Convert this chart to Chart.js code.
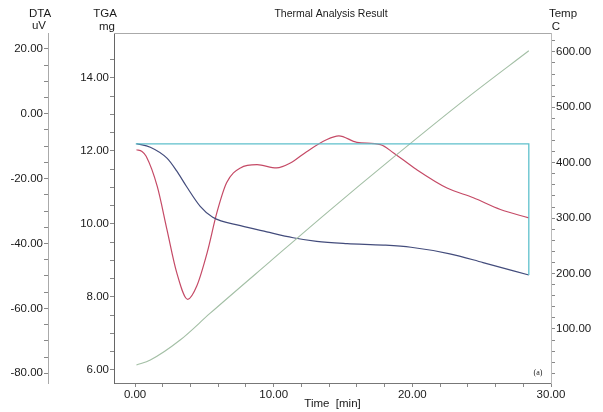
<!DOCTYPE html>
<html>
<head>
<meta charset="utf-8">
<title>Thermal Analysis Result</title>
<script src="https://cdn.jsdelivr.net/npm/chart.js@4.4.0/dist/chart.umd.min.js"></script>
<style>
  html, body { margin: 0; padding: 0; background: #fff; }
</style>
</head>
<body>
<canvas id="taChart" width="603" height="412"></canvas>
<script>
// TGA curve (mg) against time (min)
const tgaTime = [0.1, 1.1, 2.3, 3.0, 3.7, 4.7, 5.6, 7.6, 9.5, 11.4, 13.1, 15.3, 17.9, 19.9, 22.7, 25.1, 28.4];
const tgaValues = [12.2, 12.1, 11.8, 11.45, 11.03, 10.48, 10.18, 9.95, 9.78, 9.62, 9.52, 9.46, 9.42, 9.36, 9.18, 8.94, 8.6];

// DTA curve (uV)
const dtaTime = [0.1, 0.5, 0.8, 1.6, 2.3, 3.0, 3.8, 4.45, 5.2, 5.9, 6.6, 7.6, 8.8, 10.2, 11.2, 12.4, 13.8, 14.7, 16.0, 17.7, 18.65, 20.3, 22.5, 24.4, 26.35, 28.4];
const dtaValues = [-11.1, -11.6, -13.1, -22.4, -35.7, -48.9, -57.2, -53.1, -42.8, -30.5, -21.3, -16.7, -15.7, -16.7, -15.2, -11.6, -8.0, -6.8, -8.8, -9.5, -12.1, -17.2, -22.9, -25.9, -29.5, -32.1];

// Temperature program (C)
const tempTime = [0.1, 1.1, 3.25, 5.4, 9.75, 13.85, 18.65, 23.95, 28.4];
const tempValues = [35, 44, 80, 128, 222, 310, 410, 517, 602];

// cyan baseline / frame trace (mg)
const baseTime = [0.05, 28.4, 28.4];
const baseValues = [12.19, 12.19, 8.6];

// labelled ticks
const timeLabels = [0, 10, 20, 30];
const dtaLabels = [-80, -60, -40, -20, 0, 20];
const tgaLabels = [6, 8, 10, 12, 14];
const tempLabels = [100, 200, 300, 400, 500, 600];

const FONT = '"Liberation Sans", Arial, sans-serif';
Chart.defaults.font.family = FONT;
Chart.defaults.font.size = 11.5;
Chart.defaults.color = '#1a1a1a';

function toPoints(xs, ys) {
  return xs.map((x, i) => ({ x: x, y: ys[i] }));
}

// tick marks every `step`, only some of them get a label
function makeTicks(from, to, step) {
  const out = [];
  for (let v = from; v <= to + 1e-9; v += step) {
    out.push({ value: Math.round(v * 1000) / 1000 });
  }
  return out;
}

function axis(position, min, max, tickFrom, tickTo, step, labels, width, extra) {
  return Object.assign({
    type: 'linear',
    position: position,
    min: min,
    max: max,
    afterBuildTicks: s => { s.ticks = makeTicks(tickFrom, tickTo, step); },
    afterFit: s => { s.width = width; },
    grid: { drawOnChartArea: false, tickLength: 4, color: '#888' },
    border: { color: '#888' },
    ticks: {
      autoSkip: false,
      padding: 1,
      callback: v => labels.includes(v) ? v.toFixed(2) : ''
    }
  }, extra || {});
}

// header labels, frame top and the (a) mark
const decorations = {
  id: 'decorations',
  afterDraw(chart) {
    const ctx = chart.ctx;
    const area = chart.chartArea;
    ctx.save();

    ctx.strokeStyle = '#aaa';
    ctx.lineWidth = 1;
    ctx.beginPath();
    ctx.moveTo(area.left, area.top + 0.5);
    ctx.lineTo(area.right, area.top + 0.5);
    ctx.stroke();

    ctx.fillStyle = '#1a1a1a';
    ctx.textAlign = 'center';
    ctx.textBaseline = 'middle';
    ctx.font = '11.5px ' + FONT;
    ctx.fillText('DTA', 40, 14);
    ctx.fillText('uV', 39, 26);
    ctx.fillText('TGA', 105, 14);
    ctx.fillText('mg', 107, 27);
    ctx.fillText('Temp', 563, 14);
    ctx.fillText('C', 556, 27);

    ctx.font = '10.5px ' + FONT;
    ctx.fillText('Thermal Analysis Result', 331, 14);

    ctx.font = '8px "Liberation Serif", serif';
    ctx.fillText('(a)', 538, 373);
    ctx.restore();
  }
};

const ctx = document.getElementById('taChart').getContext('2d');
const chart = new Chart(ctx, {
  type: 'line',
  data: {
    datasets: [
      {
        label: 'Baseline',
        data: toPoints(baseTime, baseValues),
        yAxisID: 'tga',
        borderColor: '#5fc0cc',
        borderWidth: 1.3,
        tension: 0
      },
      {
        label: 'Temp',
        data: toPoints(tempTime, tempValues),
        yAxisID: 'temp',
        borderColor: '#a3bfa5',
        borderWidth: 1.1,
        cubicInterpolationMode: 'monotone'
      },
      {
        label: 'TGA',
        data: toPoints(tgaTime, tgaValues),
        yAxisID: 'tga',
        borderColor: '#434c7c',
        borderWidth: 1.2,
        cubicInterpolationMode: 'monotone'
      },
      {
        label: 'DTA',
        data: toPoints(dtaTime, dtaValues),
        yAxisID: 'dta',
        borderColor: '#c54a66',
        borderWidth: 1.2,
        cubicInterpolationMode: 'monotone'
      }
    ]
  },
  options: {
    responsive: false,
    animation: false,
    parsing: false,
    layout: { padding: { top: 33, left: 0, right: 0, bottom: 0 } },
    elements: { point: { radius: 0 } },
    plugins: {
      legend: { display: false },
      title: { display: false },
      tooltip: { enabled: false }
    },
    scales: {
      x: {
        type: 'linear',
        position: 'bottom',
        min: -1.52,
        max: 30,
        afterBuildTicks: s => { s.ticks = makeTicks(0, 30, 2); },
        afterFit: s => { s.height = 29; },
        grid: { drawOnChartArea: false, tickLength: 4, color: '#888' },
        border: { color: '#777' },
        ticks: {
          autoSkip: false,
          maxRotation: 0,
          padding: 1,
          callback: v => timeLabels.includes(v) ? v.toFixed(2) : ''
        },
        title: {
          display: true,
          text: 'Time  [min]',
          padding: { top: 0, bottom: 1 }
        }
      },
      dta: axis('left', -83, 24.9, -80, 20, 5, dtaLabels, 48, { weight: 1, border: { color: '#aaa' } }),
      tga: axis('left', 5.64, 15.23, 6, 14.5, 0.5, tgaLabels, 66, { weight: 0, border: { color: '#666' } }),
      temp: axis('right', 2.5, 634, 20, 620, 20, tempLabels, 52, { border: { color: '#bbb' } })
    }
  },
  plugins: [decorations]
});
</script>
</body>
</html>
